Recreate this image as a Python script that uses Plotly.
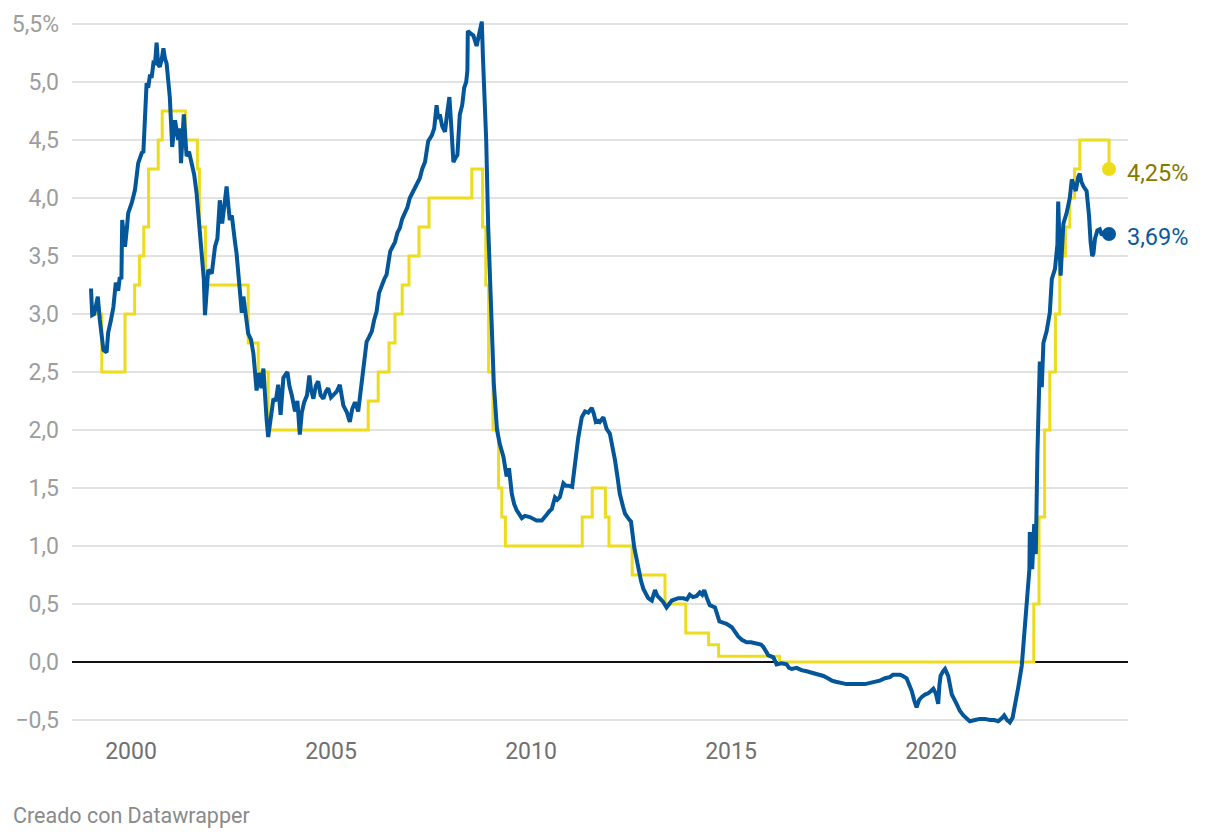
import plotly.graph_objects as go

# ECB main refinancing rate (step series): decimal year of change, rate %
ecb_x = [1999.00, 1999.27, 1999.85, 2000.09, 2000.21, 2000.32, 2000.44, 2000.68, 2000.78,
         2001.36, 2001.66, 2001.71, 2001.86, 2002.93, 2003.18, 2003.43, 2005.93, 2006.18,
         2006.45, 2006.60, 2006.78, 2006.95, 2007.20, 2007.45, 2008.52, 2008.79, 2008.87,
         2008.94, 2009.05, 2009.19, 2009.27, 2009.36, 2011.28, 2011.53, 2011.86, 2011.95,
         2012.53, 2013.35, 2013.87, 2014.44, 2014.69, 2016.21, 2022.57, 2022.70, 2022.84,
         2022.97, 2023.11, 2023.22, 2023.36, 2023.47, 2023.59, 2023.72, 2024.45]
ecb_y = [3.00, 2.50, 3.00, 3.25, 3.50, 3.75, 4.25, 4.50, 4.75,
         4.50, 4.25, 3.75, 3.25, 2.75, 2.50, 2.00, 2.25, 2.50,
         2.75, 3.00, 3.25, 3.50, 3.75, 4.00, 4.25, 3.75, 3.25,
         2.50, 2.00, 1.50, 1.25, 1.00, 1.25, 1.50, 1.25, 1.00,
         0.75, 0.50, 0.25, 0.15, 0.05, 0.00, 0.50, 1.25, 2.00,
         2.50, 3.00, 3.50, 3.75, 4.00, 4.25, 4.50, 4.25]

# Euribor 12M: decimal year, rate %
eur_x = [1999.00, 1999.03, 1999.08, 1999.17, 1999.22, 1999.31, 1999.39, 1999.43, 1999.50, 1999.56,
         1999.62, 1999.68, 1999.72, 1999.76, 1999.78, 1999.82, 1999.85, 1999.90, 1999.93, 2000.02,
         2000.10, 2000.18, 2000.27, 2000.31, 2000.35, 2000.39, 2000.43, 2000.47, 2000.52, 2000.56,
         2000.60, 2000.64, 2000.68, 2000.72, 2000.77, 2000.81, 2000.85, 2000.89, 2000.97, 2001.03,
         2001.10, 2001.14, 2001.18, 2001.22, 2001.25, 2001.32, 2001.39, 2001.45, 2001.52, 2001.58,
         2001.64, 2001.72, 2001.78, 2001.82, 2001.85, 2001.89, 2001.93, 2002.02, 2002.10, 2002.16,
         2002.22, 2002.28, 2002.33, 2002.39, 2002.43, 2002.47, 2002.52, 2002.56, 2002.60, 2002.64,
         2002.70, 2002.77, 2002.81, 2002.85, 2002.93, 2003.00, 2003.06, 2003.14, 2003.19, 2003.22,
         2003.26, 2003.31, 2003.36, 2003.39, 2003.43, 2003.50, 2003.56, 2003.62, 2003.68, 2003.74,
         2003.81, 2003.91, 2003.96, 2004.02, 2004.10, 2004.16, 2004.22, 2004.27, 2004.33, 2004.40,
         2004.46, 2004.50, 2004.56, 2004.62, 2004.68, 2004.74, 2004.81, 2004.87, 2004.93, 2005.00,
         2005.06, 2005.14, 2005.22, 2005.31, 2005.40, 2005.47, 2005.53, 2005.60, 2005.68, 2005.77,
         2005.83, 2005.89, 2005.95, 2006.02, 2006.08, 2006.14, 2006.20, 2006.27, 2006.33, 2006.39,
         2006.48, 2006.54, 2006.60, 2006.66, 2006.72, 2006.78, 2006.85, 2006.91, 2006.97, 2007.04,
         2007.10, 2007.16, 2007.22, 2007.28, 2007.35, 2007.43, 2007.52, 2007.58, 2007.64, 2007.68,
         2007.72, 2007.78, 2007.85, 2007.90, 2007.96, 2008.01, 2008.06, 2008.12, 2008.16, 2008.22,
         2008.28, 2008.33, 2008.38, 2008.41, 2008.42, 2008.48, 2008.56, 2008.64, 2008.71, 2008.77,
         2008.80, 2008.88, 2008.93, 2009.00, 2009.07, 2009.15, 2009.22, 2009.31, 2009.39, 2009.45,
         2009.52, 2009.58, 2009.64, 2009.77, 2009.85, 2009.97, 2010.05, 2010.14, 2010.27, 2010.33,
         2010.39, 2010.46, 2010.52, 2010.60, 2010.66, 2010.72, 2010.81, 2010.87, 2010.93, 2011.03,
         2011.10, 2011.18, 2011.27, 2011.35, 2011.43, 2011.52, 2011.57, 2011.62, 2011.68, 2011.72,
         2011.81, 2011.89, 2011.97, 2012.04, 2012.10, 2012.16, 2012.22, 2012.30, 2012.35, 2012.45,
         2012.50, 2012.58, 2012.68, 2012.75, 2012.81, 2012.89, 2012.93, 2013.02, 2013.10, 2013.16,
         2013.22, 2013.30, 2013.39, 2013.45, 2013.52, 2013.60, 2013.68, 2013.81, 2013.90, 2013.97,
         2014.05, 2014.14, 2014.22, 2014.28, 2014.33, 2014.40, 2014.47, 2014.60, 2014.71, 2014.80,
         2014.89, 2015.02, 2015.10, 2015.18, 2015.28, 2015.39, 2015.50, 2015.64, 2015.75, 2015.81,
         2015.87, 2015.93, 2016.06, 2016.10, 2016.14, 2016.26, 2016.39, 2016.45, 2016.52, 2016.64,
         2016.76, 2016.89, 2017.00, 2017.14, 2017.31, 2017.42, 2017.52, 2017.62, 2017.72, 2017.89,
         2018.05, 2018.22, 2018.35, 2018.48, 2018.60, 2018.72, 2018.85, 2018.97, 2019.05, 2019.14,
         2019.23, 2019.30, 2019.39, 2019.46, 2019.52, 2019.58, 2019.64, 2019.70, 2019.77, 2019.85,
         2019.93, 2020.00, 2020.06, 2020.12, 2020.18, 2020.21, 2020.24, 2020.30, 2020.35, 2020.43,
         2020.52, 2020.64, 2020.72, 2020.81, 2020.90, 2020.97, 2021.10, 2021.22, 2021.35, 2021.47,
         2021.58, 2021.68, 2021.78, 2021.83, 2021.90, 2021.97, 2022.04, 2022.10, 2022.14, 2022.18,
         2022.27, 2022.35, 2022.43, 2022.46, 2022.47, 2022.53, 2022.58, 2022.62, 2022.66, 2022.72,
         2022.77, 2022.81, 2022.89, 2022.97, 2023.02, 2023.10, 2023.16, 2023.18, 2023.24, 2023.31,
         2023.39, 2023.47, 2023.52, 2023.58, 2023.62, 2023.68, 2023.72, 2023.76, 2023.81, 2023.89,
         2023.95, 2023.99, 2024.03, 2024.06, 2024.10, 2024.16, 2024.22, 2024.27, 2024.32, 2024.45]
eur_y = [3.22, 2.99, 3.00, 3.15, 2.95, 2.69, 2.67, 2.84, 2.95, 3.06,
         3.27, 3.20, 3.32, 3.30, 3.81, 3.62, 3.58, 3.75, 3.87, 3.96,
         4.07, 4.30, 4.39, 4.40, 4.79, 4.99, 4.95, 5.05, 5.05, 5.16,
         5.15, 5.34, 5.15, 5.13, 5.20, 5.29, 5.20, 5.16, 4.87, 4.44,
         4.67, 4.55, 4.50, 4.60, 4.30, 4.72, 4.36, 4.40, 4.30, 4.20,
         4.04, 3.75, 3.47, 3.30, 2.99, 3.25, 3.38, 3.35, 3.58, 3.65,
         3.98, 3.78, 3.95, 4.10, 3.95, 3.81, 3.85, 3.70, 3.62, 3.52,
         3.30, 3.01, 3.15, 3.06, 2.83, 2.78, 2.66, 2.34, 2.49, 2.47,
         2.36, 2.53, 2.20, 2.09, 1.94, 2.10, 2.27, 2.25, 2.39, 2.13,
         2.45, 2.50, 2.38, 2.30, 2.16, 2.25, 1.96, 2.15, 2.24, 2.30,
         2.47, 2.35, 2.27, 2.38, 2.42, 2.30, 2.27, 2.33, 2.36, 2.28,
         2.30, 2.33, 2.39, 2.21, 2.15, 2.07, 2.18, 2.24, 2.16, 2.42,
         2.55, 2.76, 2.80, 2.85, 2.95, 3.02, 3.18, 3.25, 3.30, 3.34,
         3.54, 3.58, 3.62, 3.70, 3.74, 3.82, 3.88, 3.92, 4.00, 4.05,
         4.08, 4.12, 4.17, 4.25, 4.31, 4.49, 4.54, 4.60, 4.80, 4.68,
         4.72, 4.62, 4.57, 4.72, 4.87, 4.60, 4.31, 4.35, 4.37, 4.72,
         4.80, 4.95, 5.00, 5.10, 5.44, 5.42, 5.40, 5.31, 5.42, 5.52,
         5.20, 4.50, 3.75, 3.00, 2.40, 2.00, 1.88, 1.77, 1.60, 1.67,
         1.45, 1.36, 1.31, 1.24, 1.26, 1.25, 1.24, 1.22, 1.22, 1.24,
         1.27, 1.30, 1.32, 1.42, 1.40, 1.42, 1.54, 1.52, 1.52, 1.51,
         1.71, 1.93, 2.11, 2.16, 2.15, 2.19, 2.14, 2.07, 2.08, 2.07,
         2.11, 2.01, 1.97, 1.86, 1.74, 1.60, 1.45, 1.34, 1.28, 1.23,
         1.21, 0.99, 0.79, 0.70, 0.63, 0.58, 0.55, 0.53, 0.62, 0.57,
         0.55, 0.52, 0.47, 0.50, 0.53, 0.54, 0.55, 0.55, 0.54, 0.58,
         0.56, 0.57, 0.60, 0.58, 0.62, 0.55, 0.49, 0.47, 0.35, 0.34,
         0.33, 0.30, 0.26, 0.22, 0.19, 0.17, 0.17, 0.16, 0.15, 0.13,
         0.10, 0.06, 0.04, 0.01, -0.02, -0.01, -0.02, -0.05, -0.06, -0.05,
         -0.07, -0.08, -0.09, -0.11, -0.12, -0.14, -0.16, -0.17, -0.18, -0.19,
         -0.19, -0.19, -0.19, -0.18, -0.17, -0.16, -0.14, -0.13, -0.11, -0.11,
         -0.11, -0.12, -0.14, -0.20, -0.25, -0.33, -0.39, -0.33, -0.30, -0.28,
         -0.27, -0.25, -0.23, -0.27, -0.36, -0.20, -0.12, -0.08, -0.06, -0.12,
         -0.28, -0.36, -0.42, -0.46, -0.49, -0.51, -0.50, -0.49, -0.49, -0.50,
         -0.50, -0.51, -0.48, -0.46, -0.50, -0.52, -0.48, -0.38, -0.30, -0.22,
         -0.03, 0.29, 0.58, 0.80, 1.12, 0.80, 1.19, 0.93, 1.79, 2.59,
         2.37, 2.75, 2.85, 3.01, 3.30, 3.39, 3.60, 3.97, 3.33, 3.78,
         3.87, 4.00, 4.16, 4.10, 4.06, 4.18, 4.21, 4.14, 4.10, 4.06,
         3.85, 3.62, 3.50, 3.52, 3.65, 3.72, 3.73, 3.68, 3.70, 3.69]

y_ticks = [-0.5, 0, 0.5, 1.0, 1.5, 2.0, 2.5, 3.0, 3.5, 4.0, 4.5, 5.0, 5.5]
y_labels = ["\u22120,5", "0,0", "0,5", "1,0", "1,5", "2,0", "2,5", "3,0", "3,5", "4,0", "4,5", "5,0", "5,5%"]
x_ticks = [2000, 2005, 2010, 2015, 2020]
x_labels = ["2000", "2005", "2010", "2015", "2020"]

YELLOW = "#ecdc1c"
BLUE = "#03569a"
FONT = "Roboto"

fig = go.Figure()
fig.add_trace(go.Scatter(x=ecb_x, y=ecb_y, mode="lines", line=dict(color=YELLOW, width=3, shape="hv"),
                         hoverinfo="skip"))
fig.add_trace(go.Scatter(x=eur_x, y=eur_y, mode="lines", line=dict(color=BLUE, width=4),
                         hoverinfo="skip"))
fig.add_trace(go.Scatter(x=[ecb_x[-1]], y=[ecb_y[-1]], mode="markers",
                         marker=dict(color=YELLOW, size=14), hoverinfo="skip"))
fig.add_trace(go.Scatter(x=[eur_x[-1]], y=[eur_y[-1]], mode="markers",
                         marker=dict(color=BLUE, size=14), hoverinfo="skip"))

fig.add_annotation(x=1.0, xref="paper", y=ecb_y[-1], yref="y", text="4,25%", showarrow=False,
                   xanchor="left", yanchor="middle", yshift=-4, xshift=-3,
                   font=dict(family=FONT, size=23.5, color="#857900"))
fig.add_annotation(x=1.0, xref="paper", y=eur_y[-1], yref="y", text="3,69%", showarrow=False,
                   xanchor="left", yanchor="middle", yshift=-3, xshift=-3,
                   font=dict(family=FONT, size=23.5, color="#0a5a9c"))
fig.add_annotation(x=-61/1056, xref="paper", y=-(815-727)/710, yref="paper",
                   text="Creado con Datawrapper", showarrow=False,
                   font=dict(family=FONT, size=21.5, color="#8a8a8a"),
                   xanchor="left", yanchor="middle")

fig.update_layout(
    width=1220, height=838,
    margin=dict(l=72, r=92, t=17, b=111),
    paper_bgcolor="white", plot_bgcolor="white",
    showlegend=False,
    font=dict(family=FONT),
)

fig.update_xaxes(range=[1998.525, 2024.925], tickvals=x_ticks, ticktext=x_labels,
                 showgrid=False, zeroline=False, showline=False, ticks="",
                 tickfont=dict(family=FONT, size=23, color="#707070"), ticklabelstandoff=8)
fig.update_yaxes(range=[-0.56, 5.56], tickvals=y_ticks, ticktext=y_labels,
                 showgrid=True, gridcolor="#e2e2e2", gridwidth=1.5,
                 zeroline=True, zerolinecolor="#111111", zerolinewidth=1.8,
                 showline=False, ticks="",
                 tickfont=dict(family=FONT, size=23, color="#9d9d9d"), ticklabelstandoff=12)

fig.write_html("out.html")
